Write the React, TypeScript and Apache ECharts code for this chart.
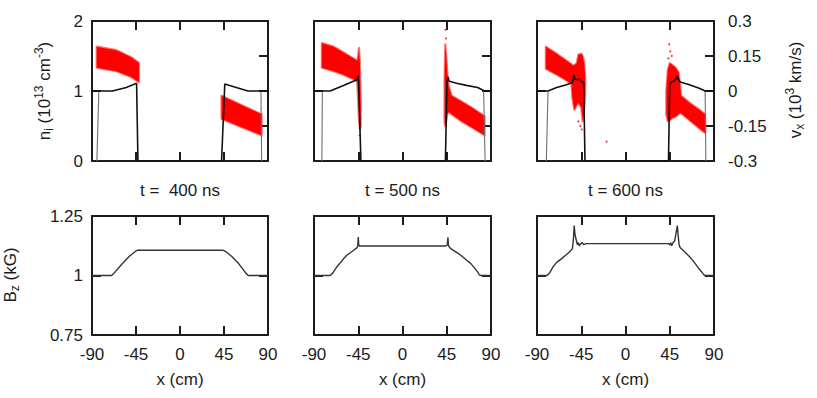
import React, { useEffect, useRef } from "react";
import * as echarts from "echarts";

// ---------- data ----------
const X_MIN = -90;
const X_MAX = 90;
const X_STEP = 45;
const N_RANGE = [0, 2];
const V_RANGE = [-0.3, 0.3];
const B_RANGE = [0.75, 1.25];

const TIME_LABELS = ["t =  400 ns", "t = 500 ns", "t = 600 ns"];

// ion density n_i (10^13 cm^-3) vs x (cm)
const N400: number[][] = [
  [-90, 1], [-69, 1], [-55, 1.05], [-44.4, 1.11], [-43, 0],
  [42.5, 0], [45.8, 1.1], [55, 1.06], [69.5, 1.0], [90, 1.0],
];
const N500: number[][] = [
  [-90, 1], [-73.6, 1], [-60, 1.08], [-50, 1.14], [-46.2, 1.16], [-45.3, 1.22], [-44.6, 1.12], [-42.3, 0],
  [43.6, 0], [45.3, 1.14], [46.2, 1.2], [47.5, 1.14], [55, 1.11], [65, 1.08], [76.4, 1.05], [83.5, 1.0], [90, 1.0],
];
const N600: number[][] = [
  [-90, 1], [-78.8, 1], [-70, 1.05], [-60, 1.09], [-54, 1.12], [-53, 1.18], [-52.5, 1.23], [-51.5, 1.17],
  [-49, 1.16], [-47, 1.17], [-45, 1.14], [-43.8, 1.13], [-42.5, 1.12], [-41.2, 0],
  [43.7, 0], [45, 1.1], [47, 1.13], [49, 1.14], [51, 1.17], [52.8, 1.21], [54, 1.16], [55.6, 1.13],
  [65, 1.09], [75, 1.04], [81, 1.0], [90, 1.0],
];

// thin grey density edges
const G400: number[][][] = [[[-85, 0], [-83, 1]], [[82.8, 1], [83.5, 0]]];
const G500: number[][][] = [[[-82, 0], [-81.5, 1]], [[82.5, 1], [84, 0]]];
const G600: number[][][] = [[[-80.5, 0], [-78.8, 1]], [[81, 1], [81.7, 0]]];

// ion velocity v_x (10^3 km/s) particle clouds: [x, lower, upper]
const V400: number[][][] = [
  [[-85.2, 0.1, 0.19], [-65, 0.085, 0.175], [-50, 0.06, 0.145], [-42, 0.038, 0.12]],
  [[42.5, -0.12, -0.02], [60, -0.15, -0.055], [83.5, -0.19, -0.1]],
];
const V500: number[][][] = [
  [[-82, 0.1, 0.205], [-70, 0.085, 0.19], [-60, 0.07, 0.165], [-50, 0.05, 0.14], [-46, 0.04, 0.13],
   [-45, -0.05, 0.15], [-44.3, -0.12, 0.185], [-43.3, -0.165, 0.12], [-42.5, -0.15, -0.05]],
  [[42.8, -0.13, 0.05], [43.5, -0.15, 0.2], [44.5, -0.13, 0.15], [45.5, -0.1, 0.08], [47, -0.09, 0.02],
   [50, -0.1, -0.02], [60, -0.13, -0.045], [70, -0.155, -0.07], [83.5, -0.19, -0.108]],
];
const V600: number[][][] = [
  [[-81, 0.095, 0.19], [-70, 0.07, 0.16], [-60, 0.045, 0.13], [-55, 0.03, 0.115], [-54, -0.03, 0.11],
   [-52, -0.08, 0.11], [-49.5, -0.06, 0.12], [-48, -0.05, 0.155], [-45, -0.07, 0.16], [-43.5, -0.13, 0.15],
   [-42, -0.08, 0.12], [-41, -0.02, 0.06]],
  [[41.5, -0.1, 0.0], [43, -0.13, 0.09], [45, -0.125, 0.12], [48, -0.115, 0.11], [51, -0.11, 0.1],
   [54, -0.1, 0.08], [55.5, -0.095, 0.03], [56.5, -0.095, -0.02], [65, -0.125, -0.05], [75, -0.16, -0.08],
   [81, -0.18, -0.1]],
];
// stray particles
const S400: number[][] = [];
const S500: number[][] = [[43.8, 0.262], [44.2, 0.225], [-43.6, -0.19]];
const S600: number[][] = [[-19.3, -0.217], [44.5, 0.2], [45.5, 0.17], [47, 0.15], [43.5, 0.14], [-48, -0.13], [-46, -0.15], [-44.5, -0.165]];

// magnetic field B_z (kG)
const B400: number[][] = [
  [-90, 1], [-70, 1], [-67, 1.012], [-60, 1.045], [-52, 1.08], [-46, 1.1], [-43.7, 1.106],
  [44.2, 1.106], [47, 1.1], [53, 1.08], [60, 1.05], [67, 1.012], [69.8, 1], [90, 1],
];
const B500: number[][] = [
  [-90, 1], [-73.6, 1], [-71, 1.01], [-66.8, 1.036], [-60, 1.07], [-56.6, 1.085], [-50, 1.105], [-46.3, 1.117],
  [-45.5, 1.125], [-45, 1.162], [-44.5, 1.13], [-44, 1.124], [44, 1.124], [45.5, 1.128], [46.2, 1.16], [46.8, 1.125],
  [49, 1.113], [55, 1.097], [59.3, 1.085], [65, 1.065], [69.5, 1.05], [73, 1.033], [76.4, 1.015], [78, 1.003],
  [79.7, 1], [90, 1],
];
const B600: number[][] = [
  [-90, 1], [-79.8, 1], [-77, 1.012], [-73.7, 1.036], [-70, 1.055], [-65.3, 1.07], [-60, 1.088], [-56.7, 1.1],
  [-54, 1.113], [-53, 1.15], [-52.2, 1.21], [-51.3, 1.17], [-50, 1.148], [-49, 1.13], [-48, 1.138], [-47, 1.124],
  [-46, 1.132], [-44, 1.138], [-42.5, 1.13], [-40, 1.134], [44, 1.134], [45, 1.128], [46, 1.138], [47, 1.125],
  [48.5, 1.14], [50, 1.145], [51.5, 1.18], [52.7, 1.21], [53.5, 1.17], [54.5, 1.13], [55.5, 1.118], [60, 1.1],
  [65, 1.08], [70, 1.055], [75, 1.027], [78.9, 1.008], [80.4, 1], [90, 1],
];

const DENSITY = [N400, N500, N600];
const GREY = [G400, G500, G600];
const VELOCITY = [V400, V500, V600];
const STRAY = [S400, S500, S600];
const FIELD = [B400, B500, B600];

// ---------- layout / style ----------
const FONT = "'Liberation Sans', Arial, Helvetica, sans-serif";
const INK = "#1c1c1c";
const COLS = [
  { left: 92, width: 176 },
  { left: 314, width: 177 },
  { left: 537, width: 177 },
];
const TOP_ROW = { top: 21, height: 140 };
const BOT_ROW = { top: 216, height: 119 };

const axisLine = { show: true, onZero: false, lineStyle: { color: INK, width: 2 } };
const axisTick = { show: true, inside: true, length: 9, lineStyle: { color: INK, width: 2 } };
const label = (show: boolean, margin: number) => ({
  show,
  margin,
  fontSize: 17,
  color: INK,
  fontFamily: FONT,
});

function buildOption() {
  const grid: any[] = [];
  const xAxis: any[] = [];
  const yAxis: any[] = [];
  const series: any[] = [];
  const graphic: any[] = [];

  for (let g = 0; g < 6; g++) {
    const col = COLS[g % 3];
    const row = g < 3 ? TOP_ROW : BOT_ROW;
    grid.push({ left: col.left, top: row.top, width: col.width, height: row.height, containLabel: false });
    const xBase = { type: "value", gridIndex: g, min: X_MIN, max: X_MAX, interval: X_STEP, axisLine, axisTick, splitLine: { show: false } };
    xAxis.push({ ...xBase, position: "bottom", axisLabel: label(g >= 3, 11) });
    xAxis.push({ ...xBase, position: "top", axisLabel: { show: false } });
    if (g < 3) {
      yAxis.push({ type: "value", gridIndex: g, min: N_RANGE[0], max: N_RANGE[1], interval: 1, position: "left", axisLine, axisTick, splitLine: { show: false }, axisLabel: label(g === 0, 9) });
      yAxis.push({ type: "value", gridIndex: g, min: V_RANGE[0], max: V_RANGE[1], interval: 0.15, position: "right", axisLine, axisTick, splitLine: { show: false }, axisLabel: label(g === 2, 14) });
    } else {
      yAxis.push({ type: "value", gridIndex: g, min: B_RANGE[0], max: B_RANGE[1], interval: 0.25, position: "left", axisLine, axisTick, splitLine: { show: false }, axisLabel: label(g === 3, 9) });
      yAxis.push({ type: "value", gridIndex: g, min: B_RANGE[0], max: B_RANGE[1], interval: 0.25, position: "right", axisLine, axisTick, splitLine: { show: false }, axisLabel: { show: false } });
    }
  }

  for (let p = 0; p < 3; p++) {
    const bands = VELOCITY[p];
    series.push({
      type: "custom",
      xAxisIndex: 2 * p,
      yAxisIndex: 2 * p + 1,
      z: 2,
      data: bands.map((b) => [b[0][0], b[0][1]]),
      renderItem: (params: any, api: any) => {
        const b = bands[params.dataIndex];
        const up = b.map((q) => api.coord([q[0], q[2]]));
        const lo = b.slice().reverse().map((q) => api.coord([q[0], q[1]]));
        return {
          type: "polygon",
          shape: { points: up.concat(lo) },
          style: { fill: "#ff0000", stroke: "rgba(255,0,0,0.55)", lineWidth: 2.2, lineJoin: "round" },
        };
      },
    });
    if (STRAY[p].length) {
      series.push({
        type: "scatter",
        xAxisIndex: 2 * p,
        yAxisIndex: 2 * p + 1,
        z: 2,
        symbolSize: 2,
        itemStyle: { color: "#ff0000" },
        data: STRAY[p],
      });
    }
    GREY[p].forEach((seg) => {
      series.push({
        type: "line",
        xAxisIndex: 2 * p,
        yAxisIndex: 2 * p,
        z: 3,
        symbol: "none",
        lineStyle: { color: "#707070", width: 1.1 },
        data: seg,
      });
    });
    series.push({
      type: "line",
      xAxisIndex: 2 * p,
      yAxisIndex: 2 * p,
      z: 4,
      symbol: "none",
      lineStyle: { color: "#111111", width: 1.6 },
      data: DENSITY[p],
    });
    series.push({
      type: "line",
      xAxisIndex: 2 * (p + 3),
      yAxisIndex: 2 * (p + 3),
      z: 4,
      symbol: "none",
      lineStyle: { color: "#333333", width: 1.4 },
      data: FIELD[p],
    });

    const cx = COLS[p].left + COLS[p].width / 2;
    graphic.push({
      type: "text",
      x: cx,
      y: 190,
      style: { text: TIME_LABELS[p], fontSize: 17, fontFamily: FONT, fill: INK, textAlign: "center", textVerticalAlign: "middle" },
    });
    graphic.push({
      type: "text",
      x: cx,
      y: 379,
      style: { text: "x (cm)", fontSize: 17, fontFamily: FONT, fill: INK, textAlign: "center", textVerticalAlign: "middle" },
    });
  }

  const rich = {
    m: { fontSize: 17, fontFamily: FONT, fill: INK, lineHeight: 22, verticalAlign: "middle" },
    sup: { fontSize: 12, fontFamily: FONT, fill: INK, lineHeight: 12, verticalAlign: "top" },
    sub: { fontSize: 12, fontFamily: FONT, fill: INK, lineHeight: 12, verticalAlign: "bottom" },
  };
  const rotLabel = (x: number, y: number, text: string) => ({
    type: "text",
    x,
    y,
    rotation: Math.PI / 2,
    style: { text, rich, fontFamily: FONT, fill: INK, textAlign: "center", textVerticalAlign: "middle" },
  });
  graphic.push(rotLabel(44, 91, "{m|n}{sub|i}{m| (10}{sup|13}{m| cm}{sup|-3}{m|)}"));
  graphic.push(rotLabel(795, 90, "{m|v}{sub|x}{m| (10}{sup|3}{m| km/s)}"));
  graphic.push(rotLabel(10, 275, "{m|B}{sub|z}{m| (kG)}"));

  return {
    animation: false,
    backgroundColor: "#ffffff",
    textStyle: { fontFamily: FONT },
    grid,
    xAxis,
    yAxis,
    series,
    graphic,
  };
}

export default function App() {
  const ref = useRef<HTMLDivElement>(null);
  useEffect(() => {
    if (!ref.current) return;
    const chart = echarts.init(ref.current, undefined, { renderer: "svg" });
    chart.setOption(buildOption() as any);
    return () => chart.dispose();
  }, []);
  return (
    <div
      ref={ref}
      style={{ position: "absolute", left: 0, top: 0, width: 817, height: 398, background: "#fff" }}
    />
  );
}
